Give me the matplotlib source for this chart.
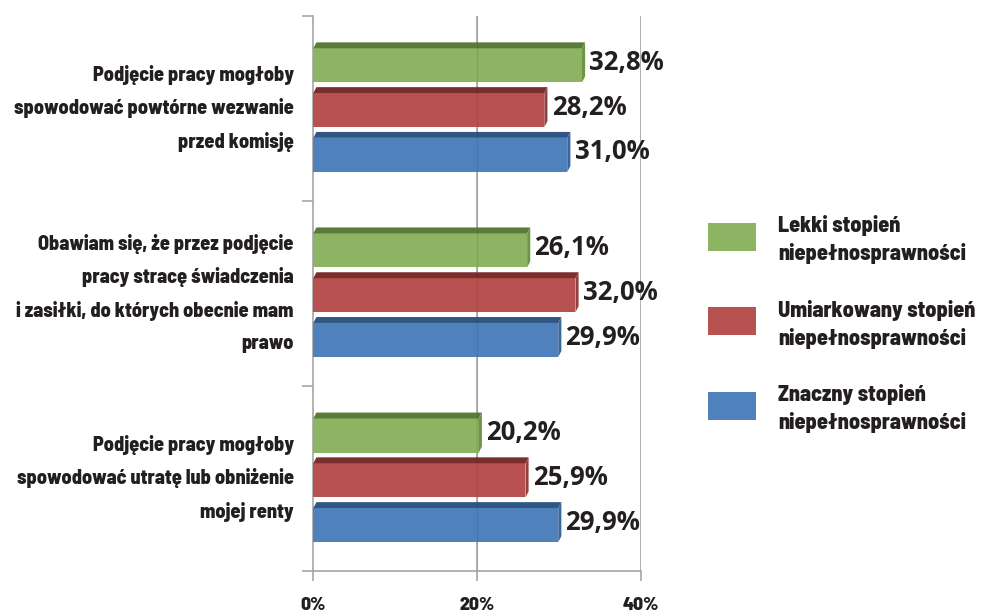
import numpy as np
import matplotlib
matplotlib.use('Agg')
import matplotlib.pyplot as plt
from matplotlib import font_manager
from matplotlib.patches import Polygon, Rectangle

# data
categories = [
    'Podjęcie pracy mogłoby\nspowodować powtórne wezwanie\nprzed komisję',
    'Obawiam się, że przez podjęcie\npracy stracę świadczenia\ni zasiłki, do których obecnie mam\nprawo',
    'Podjęcie pracy mogłoby\nspowodować utratę lub obniżenie\nmojej renty',
]
series_names = [
    'Lekki stopień\nniepełnosprawności',
    'Umiarkowany stopień\nniepełnosprawności',
    'Znaczny stopień\nniepełnosprawności',
]
lekki = [32.8, 26.1, 20.2]
umiarkowany = [28.2, 32.0, 25.9]
znaczny = [31.0, 29.9, 29.9]
x_ticks = [0, 20, 40]
x_tick_labels = ['0%', '20%', '40%']

series = [lekki, umiarkowany, znaczny]
front_colors = ['#8cb462', '#b85250', '#4f81bd']
top_colors = ['#5a7b3c', '#7a2e2d', '#305684']
side_colors = ['#6f9448', '#93403e', '#3c6699']

# fonts
names = {f.name for f in font_manager.fontManager.ttflist}
narrow = 'Barlow Semi Condensed' if 'Barlow Semi Condensed' in names else 'DejaVu Sans'
txt_color = '#231f20'
lab_w = 800

fig = plt.figure(figsize=(9.85, 6.12), dpi=100)
ax = fig.add_axes([313.3 / 985, 41 / 612, (641 - 313.3) / 985, (571 - 15.7) / 612])

ax.set_xlim(0, 40)
ax.set_ylim(2.5, -0.5)

pitch = 0.242
bar_h = 0.184
shift = 0.01
dx = 0.38   # depth of the 3D effect in x data units
dy = 0.032  # depth in y data units

for si, vals in enumerate(series):
    for gi, v in enumerate(vals):
        yc = gi + (si - 1) * pitch + shift
        top = yc - bar_h / 2
        bot = yc + bar_h / 2
        ax.barh(yc, v, height=bar_h, color=front_colors[si], zorder=3,
                edgecolor='none')
        ax.add_patch(Polygon([(0, top), (v, top), (v + dx, top - dy), (dx, top - dy)],
                             closed=True, facecolor=top_colors[si], edgecolor='none', zorder=3))
        ax.add_patch(Polygon([(v, top), (v + dx, top - dy), (v + dx, bot - dy), (v, bot)],
                             closed=True, facecolor=side_colors[si], edgecolor='none', zorder=3))
        ax.annotate(f'{v:.1f}%'.replace('.', ','), xy=(v + dx, yc - dy / 2),
                    xytext=(3, 0), textcoords='offset points', va='center', ha='left',
                    fontsize=18.5, fontweight='bold', family='Open Sans', color=txt_color,
                    zorder=4)

# gridlines and axes
for t in x_ticks[1:]:
    ax.axvline(t, color='#a6a6a6', lw=1.2, zorder=1)
    ax.axvline(t, color='#000000', lw=1.0, alpha=0.08, zorder=3.5)

for s in ['top', 'right']:
    ax.spines[s].set_visible(False)
for s in ['left', 'bottom']:
    ax.spines[s].set_color('#a6a6a6')
    ax.spines[s].set_linewidth(1.2)

ax.set_xticks(x_ticks)
ax.set_xticklabels(x_tick_labels, fontsize=14, fontweight=lab_w, family=narrow, color=txt_color)
ax.tick_params(axis='x', length=7, width=1.2, color='#a6a6a6', pad=11.5)

ax.set_yticks([-0.5, 0.5, 1.5, 2.5])
ax.set_yticklabels([])
ax.set_yticks(range(len(categories)), minor=True)
ax.set_yticklabels(categories, minor=True, fontsize=14.5, fontweight=lab_w, family=narrow,
                   color=txt_color, linespacing=1.85, ha='right')
ax.tick_params(axis='y', which='major', length=8, width=1.2, color='#a6a6a6')
ax.tick_params(axis='y', which='minor', length=0, pad=14)
for lbl in ax.get_yticklabels(minor=True):
    lbl.set_va('center')

# legend drawn by hand
for i, (name, c) in enumerate(zip(series_names, front_colors)):
    yc = 236.8 + i * 84.5
    fig.add_artist(Rectangle((708 / 985, 1 - (yc + 14) / 612), 48 / 985, 28 / 612,
                             transform=fig.transFigure, facecolor=c, edgecolor='none'))
    fig.text(778 / 985, 1 - (yc + 3) / 612, name, ha='left', va='center', fontsize=16,
             fontweight=lab_w, family=narrow, color=txt_color, linespacing=1.4)

fig.savefig('out.png', dpi=100)
